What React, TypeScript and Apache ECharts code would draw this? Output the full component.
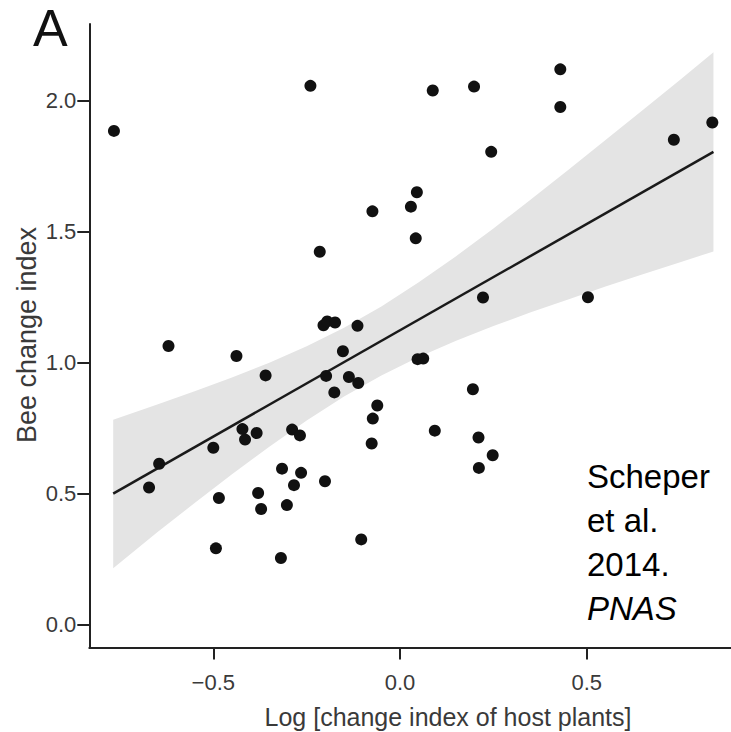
import React, { useEffect, useRef } from "react";
import * as echarts from "echarts";

// Scatter points: log change index of host plants (x) vs bee change index (y)
const plantIndex = [
  -0.766, -0.24, 0.0875, 0.198, 0.429, 0.429, 0.836, 0.733, 0.244, 0.045,
  0.029, -0.074, 0.042, -0.215, 0.222, 0.503, -0.205, -0.195, -0.174, -0.114,
  -0.62, -0.438, -0.153, 0.047, 0.062, -0.36, -0.198, -0.137, -0.112, -0.176,
  -0.061, -0.073, -0.076, -0.645, -0.672, -0.5, -0.422, -0.415, -0.384, -0.289,
  -0.268, -0.316, -0.265, -0.284, -0.201, -0.485, -0.38, -0.372, -0.303, -0.493,
  -0.319, -0.104, 0.195, 0.093, 0.21, 0.248, 0.211,
];
const beeIndex = [
  1.883, 2.055, 2.037, 2.052, 2.118, 1.974, 1.915, 1.849, 1.803, 1.649,
  1.594, 1.576, 1.473, 1.422, 1.247, 1.248, 1.141, 1.156, 1.152, 1.139,
  1.062, 1.024, 1.042, 1.012, 1.014, 0.95, 0.948, 0.944, 0.921, 0.885,
  0.835, 0.785, 0.69, 0.613, 0.522, 0.674, 0.745, 0.705, 0.73, 0.743,
  0.721, 0.594, 0.578, 0.531, 0.546, 0.482, 0.501, 0.44, 0.455, 0.29,
  0.253, 0.324, 0.897, 0.739, 0.713, 0.645, 0.597,
];

// Fitted regression line end points
const fitX = [-0.768, 0.839];
const fitY = [0.499, 1.803];

// Confidence band
const bandX = [
  -0.768, -0.65, -0.55, -0.45, -0.35, -0.25, -0.15, -0.05, 0.05, 0.15,
  0.25, 0.35, 0.45, 0.55, 0.65, 0.75, 0.839,
];
const bandUpper = [
  0.781, 0.839, 0.889, 0.942, 0.998, 1.061, 1.132, 1.213, 1.305, 1.405,
  1.511, 1.621, 1.734, 1.848, 1.963, 2.078, 2.183,
];
const bandLower = [
  0.214, 0.351, 0.463, 0.573, 0.678, 0.778, 0.869, 0.95, 1.02, 1.082,
  1.138, 1.191, 1.24, 1.289, 1.336, 1.382, 1.423,
];

const xTicks = [-0.5, 0, 0.5];
const yTicks = [0, 0.5, 1, 1.5, 2];

const xTitle = "Log [change index of host plants]";
const yTitle = "Bee change index";
const panelLabel = "A";
const citeLines = ["Scheper", "et al.", "2014."];
const citeJournal = "PNAS";

const FONT = '"Liberation Sans", Arial, Helvetica, sans-serif';

const fmt = (v: number) => (v < 0 ? "\u2212" : "") + Math.abs(v).toFixed(1);

export default function App() {
  const ref = useRef<HTMLDivElement>(null);

  useEffect(() => {
    if (!ref.current) return;
    const chart = echarts.init(ref.current, undefined, { renderer: "svg" });

    const points = plantIndex.map((x, i) => [x, beeIndex[i]]);
    const fit = fitX.map((x, i) => [x, fitY[i]]);

    const citeGraphics: any[] = citeLines.map((t, i) => ({
      type: "text",
      x: 587,
      y: 476 + i * 44,
      style: {
        text: t,
        font: `33px ${FONT}`,
        fill: "#000",
        textAlign: "left",
        textVerticalAlign: "middle",
      },
      z: 10,
    }));
    citeGraphics.push({
      type: "text",
      x: 587,
      y: 476 + 3 * 44,
      style: {
        text: citeJournal,
        font: `italic 33px ${FONT}`,
        fill: "#000",
        textAlign: "left",
        textVerticalAlign: "middle",
      },
      z: 10,
    });

    chart.setOption({
      animation: false,
      backgroundColor: "#fff",
      grid: { left: 89.3, right: 0, top: 24, bottom: 84.5, containLabel: false },
      xAxis: {
        type: "value",
        min: -0.832,
        max: 0.886,
        axisLine: { show: true, onZero: false, lineStyle: { color: "#222", width: 2 } },
        axisTick: {
          show: true,
          length: 12,
          lineStyle: { color: "#222", width: 2 },
          customValues: xTicks,
        },
        axisLabel: {
          customValues: xTicks,
          formatter: fmt,
          fontSize: 22,
          fontFamily: FONT,
          color: "#3a3a3a",
          margin: 24,
        },
        splitLine: { show: false },
      },
      yAxis: {
        type: "value",
        min: -0.0885,
        max: 2.291,
        axisLine: { show: true, onZero: false, lineStyle: { color: "#222", width: 2 } },
        axisTick: {
          show: true,
          length: 12,
          lineStyle: { color: "#222", width: 2 },
          customValues: yTicks,
        },
        axisLabel: {
          customValues: yTicks,
          formatter: fmt,
          fontSize: 22,
          fontFamily: FONT,
          color: "#3a3a3a",
          margin: 13,
        },
        splitLine: { show: false },
      },
      graphic: [
        {
          type: "text",
          x: 33,
          y: 54,
          style: {
            text: panelLabel,
            font: `52px ${FONT}`,
            fill: "#111",
            textAlign: "left",
            textVerticalAlign: "bottom",
          },
        },
        {
          type: "text",
          x: 448,
          y: 717,
          style: {
            text: xTitle,
            font: `25px ${FONT}`,
            fill: "#3a3a3a",
            textAlign: "center",
            textVerticalAlign: "middle",
          },
        },
        {
          type: "text",
          x: 27,
          y: 335,
          rotation: Math.PI / 2,
          style: {
            text: yTitle,
            font: `27px ${FONT}`,
            fill: "#3a3a3a",
            textAlign: "center",
            textVerticalAlign: "middle",
          },
        },
        ...citeGraphics,
      ],
      series: [
        {
          type: "custom",
          silent: true,
          z: 1,
          data: [[0, 0]],
          renderItem: (_params: any, api: any) => {
            const pts: number[][] = [];
            for (let i = 0; i < bandX.length; i++) pts.push(api.coord([bandX[i], bandUpper[i]]));
            for (let i = bandX.length - 1; i >= 0; i--) pts.push(api.coord([bandX[i], bandLower[i]]));
            return {
              type: "polygon",
              shape: { points: pts },
              style: { fill: "#e4e4e4", stroke: null },
            };
          },
        },
        {
          type: "line",
          data: fit,
          showSymbol: false,
          silent: true,
          z: 2,
          lineStyle: { color: "#1a1a1a", width: 2.5 },
        },
        {
          type: "scatter",
          data: points,
          symbol: "circle",
          symbolSize: 12,
          z: 3,
          itemStyle: { color: "#111", opacity: 1 },
        },
      ],
    });

    return () => chart.dispose();
  }, []);

  return (
    <div
      ref={ref}
      style={{ position: "fixed", left: 0, top: 0, width: 731, height: 732 }}
    />
  );
}
